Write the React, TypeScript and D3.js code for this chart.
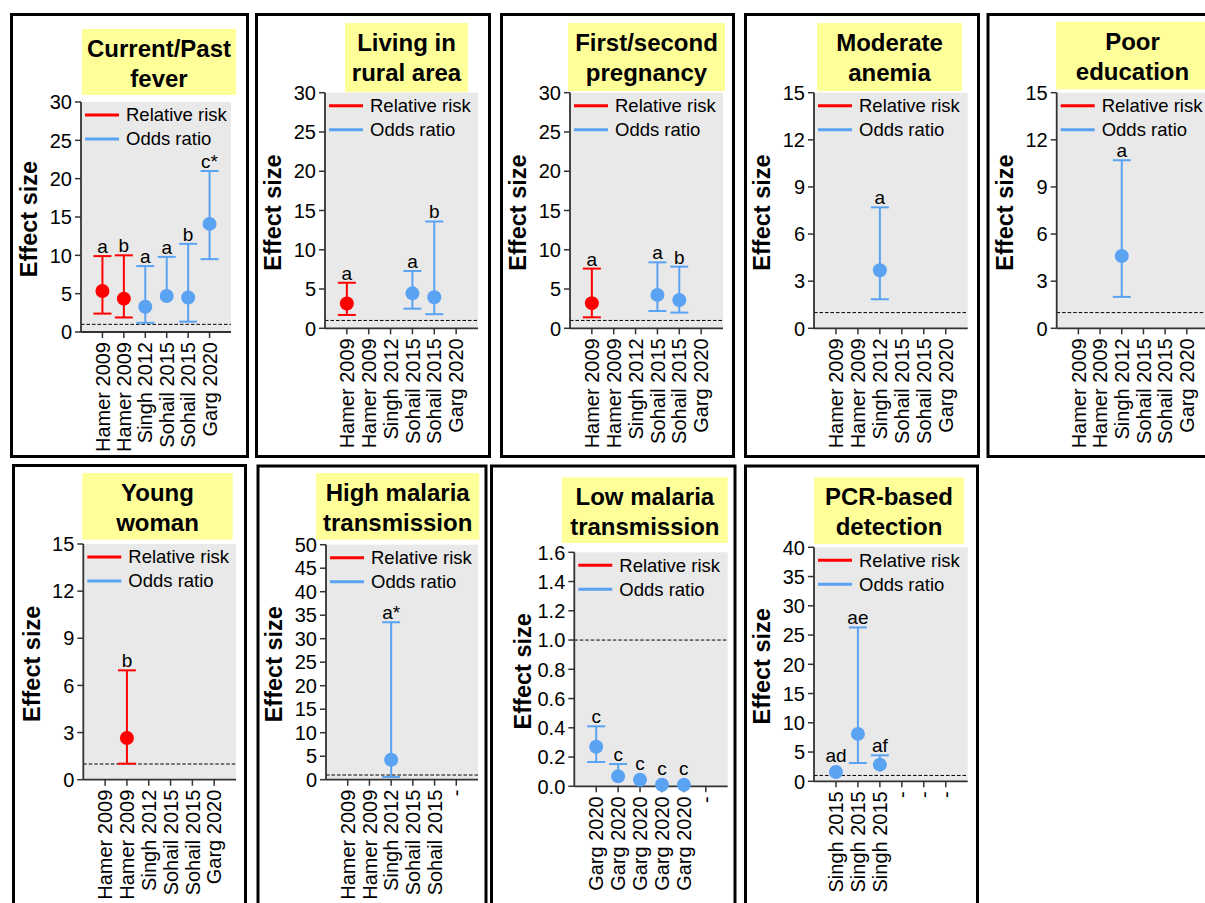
import React from "react";
import * as d3 from "d3";

// ---------- DATA ----------
const studyLabels = ["Hamer 2009", "Hamer 2009", "Singh 2012", "Sohail 2015", "Sohail 2015", "Garg 2020"];
const studyMeasures = ["RR", "RR", "OR", "OR", "OR", "OR"];
const highTxLabels = ["Hamer 2009", "Hamer 2009", "Singh 2012", "Sohail 2015", "Sohail 2015", "-"];
const lowTxLabels = ["Garg 2020", "Garg 2020", "Garg 2020", "Garg 2020", "Garg 2020", "-"];
const pcrLabels = ["Singh 2015", "Singh 2015", "Singh 2015", "-", "-", "-"];
const allOddsRatio = ["OR", "OR", "OR", "OR", "OR", "OR"];

const legendLabels = ["Relative risk", "Odds ratio"];

const feverTitle = ["Current/Past", "fever"];
const feverValues = [5.35, 4.35, 3.3, 4.7, 4.5, 14.1];
const feverLower = [2.4, 1.9, 1.2, null, 1.35, 9.5];
const feverUpper = [9.9, 10.0, 8.6, 9.8, 11.5, 21.0];
const feverLetters = ["a", "b", "a", "a", "b", "c*"];

const ruralTitle = ["Living in", "rural area"];
const ruralValues = [3.15, null, null, 4.45, 3.95, null];
const ruralLower = [1.7, null, null, 2.5, 1.8, null];
const ruralUpper = [5.8, null, null, 7.3, 13.6, null];
const ruralLetters = ["a", "", "", "a", "b", ""];

const pregnancyTitle = ["First/second", "pregnancy"];
const pregnancyValues = [3.2, null, null, 4.25, 3.6, null];
const pregnancyLower = [1.4, null, null, 2.2, 2.0, null];
const pregnancyUpper = [7.6, null, null, 8.4, 7.85, null];
const pregnancyLetters = ["a", "", "", "a", "b", ""];

const anemiaTitle = ["Moderate", "anemia"];
const anemiaValues = [null, null, 3.7, null, null, null];
const anemiaLower = [null, null, 1.85, null, null, null];
const anemiaUpper = [null, null, 7.7, null, null, null];
const anemiaLetters = ["", "", "a", "", "", ""];

const educationTitle = ["Poor", "education"];
const educationValues = [null, null, 4.6, null, null, null];
const educationLower = [null, null, 2.0, null, null, null];
const educationUpper = [null, null, 10.7, null, null, null];
const educationLetters = ["", "", "a", "", "", ""];

const youngTitle = ["Young", "woman"];
const youngValues = [null, 2.65, null, null, null, null];
const youngLower = [null, 1.02, null, null, null, null];
const youngUpper = [null, 6.96, null, null, null, null];
const youngLetters = ["", "b", "", "", "", ""];

const highTitle = ["High malaria", "transmission"];
const highValues = [null, null, 4.26, null, null, null];
const highLower = [null, null, 0.57, null, null, null];
const highUpper = [null, null, 33.5, null, null, null];
const highLetters = ["", "", "a*", "", "", ""];

const lowTitle = ["Low malaria", "transmission"];
const lowValues = [0.27, 0.068, 0.045, 0.011, 0.01, null];
const lowLower = [0.166, null, null, null, null, null];
const lowUpper = [0.41, 0.152, null, null, null, null];
const lowLetters = ["c", "c", "c", "c", "c", ""];

const pcrTitle = ["PCR-based", "detection"];
const pcrValues = [1.6, 8.1, 2.85, null, null, null];
const pcrLower = [null, 3.13, null, null, null, null];
const pcrUpper = [null, 26.3, 4.44, null, null, null];
const pcrLetters = ["ad", "ae", "af", "", "", ""];

// y axis maxima and tick steps
const yMaxes = [30, 30, 30, 15, 15, 15, 50, 1.6, 40];
const yStepsList = [5, 5, 5, 3, 3, 3, 5, 0.2, 5];
const referenceValue = 1;

// ---------- LAYOUT (positions only) ----------
const layouts = [
  { frame: [11.5, 14.5, 236, 442], plot: [81, 102, 231, 332], title: [82, 29, 236, 95] },
  { frame: [256.5, 14.5, 233, 442], plot: [325, 92.7, 478, 328.3], title: [345, 23, 468, 92] },
  { frame: [501.5, 14.5, 232, 442], plot: [570, 92.7, 723, 328.3], title: [568, 23, 725, 91] },
  { frame: [745.5, 14.5, 233, 442], plot: [814, 92.7, 967.7, 328.3], title: [817, 23, 962, 91] },
  { frame: [988, 14.5, 240, 442], plot: [1056.7, 92.7, 1208.5, 328.3], title: [1056, 21.7, 1209, 89.3] },
  { frame: [13.5, 465.5, 232, 460], plot: [83.3, 544, 236, 779.7], title: [82.3, 473, 232.7, 539.7] },
  { frame: [258, 466, 228, 460], plot: [326, 544.7, 478, 779.7], title: [316, 473, 479.3, 539.7] },
  { frame: [491.5, 466, 243.5, 460], plot: [574.3, 552.3, 727.7, 786.3], title: [562, 477.3, 727.7, 543] },
  { frame: [745.5, 466, 232, 460], plot: [814, 547.3, 967.7, 781.3], title: [814, 477.3, 964, 544] },
];

const panels = [
  { title: feverTitle, cats: studyLabels, measures: studyMeasures, values: feverValues, lower: feverLower, upper: feverUpper, letters: feverLetters },
  { title: ruralTitle, cats: studyLabels, measures: studyMeasures, values: ruralValues, lower: ruralLower, upper: ruralUpper, letters: ruralLetters },
  { title: pregnancyTitle, cats: studyLabels, measures: studyMeasures, values: pregnancyValues, lower: pregnancyLower, upper: pregnancyUpper, letters: pregnancyLetters },
  { title: anemiaTitle, cats: studyLabels, measures: studyMeasures, values: anemiaValues, lower: anemiaLower, upper: anemiaUpper, letters: anemiaLetters },
  { title: educationTitle, cats: studyLabels, measures: studyMeasures, values: educationValues, lower: educationLower, upper: educationUpper, letters: educationLetters },
  { title: youngTitle, cats: studyLabels, measures: studyMeasures, values: youngValues, lower: youngLower, upper: youngUpper, letters: youngLetters },
  { title: highTitle, cats: highTxLabels, measures: studyMeasures, values: highValues, lower: highLower, upper: highUpper, letters: highLetters },
  { title: lowTitle, cats: lowTxLabels, measures: allOddsRatio, values: lowValues, lower: lowLower, upper: lowUpper, letters: lowLetters },
  { title: pcrTitle, cats: pcrLabels, measures: allOddsRatio, values: pcrValues, lower: pcrLower, upper: pcrUpper, letters: pcrLetters },
];

const RED = "#FF0000";
const BLUE = "#5AA2F2";
const YELLOW = "#FFFF99";
const FONT = "'Liberation Sans', Arial, Helvetica, sans-serif";

function Panel({ idx }: { idx: number }) {
  const p = panels[idx];
  const L = layouts[idx];
  const [x0, y0, x1, y1] = L.plot;
  const yMax = yMaxes[idx];
  const step = yStepsList[idx];
  const y = d3.scaleLinear().domain([0, yMax]).range([y1, y0]);
  const x = d3.scalePoint<number>().domain(d3.range(p.cats.length)).range([x0, x1]).padding(1);
  const ticks = d3.range(0, yMax + step / 2, step);
  const fmt = step < 1 ? d3.format(".1f") : d3.format("d");
  const r = 7;
  const cap = 9;
  const [tx0, ty0, tx1, ty1] = L.title;
  const tcx = (tx0 + tx1) / 2;

  return (
    <g fontFamily={FONT}>
      <rect x={L.frame[0]} y={L.frame[1]} width={L.frame[2]} height={L.frame[3]} fill="white" stroke="#000" strokeWidth={3} />
      <rect x={tx0} y={ty0} width={tx1 - tx0} height={ty1 - ty0} fill={YELLOW} />
      <text x={tcx} y={ty0 + 28} textAnchor="middle" fontWeight="bold" fontSize={24} fill="#000">{p.title[0]}</text>
      <text x={tcx} y={ty0 + 58} textAnchor="middle" fontWeight="bold" fontSize={24} fill="#000">{p.title[1]}</text>
      <rect x={x0} y={y0} width={x1 - x0} height={y1 - y0} fill="#E9E9E9" />
      {/* reference line */}
      <line x1={x0} x2={x1} y1={y(referenceValue)} y2={y(referenceValue)} stroke="#000" strokeWidth={1} strokeDasharray="3.5,2" />
      {/* legend */}
      {legendLabels.map((lab, i) => (
        <g key={lab}>
          <line x1={x0 + 4} x2={x0 + 38} y1={y0 + 13 + i * 24} y2={y0 + 13 + i * 24} stroke={i === 0 ? RED : BLUE} strokeWidth={3} />
          <text x={x0 + 45} y={y0 + 13 + i * 24} dy="0.35em" fontSize={18.5} fill="#000">{lab}</text>
        </g>
      ))}
      {/* axes */}
      <line x1={x0} x2={x0} y1={y0} y2={y1} stroke="#333" strokeWidth={1.8} />
      <line x1={x0} x2={x1} y1={y1} y2={y1} stroke="#333" strokeWidth={1.8} />
      {ticks.map((t) => (
        <g key={t}>
          <line x1={x0 - 6} x2={x0} y1={y(t)} y2={y(t)} stroke="#333" strokeWidth={1.5} />
          <text x={x0 - 9} y={y(t)} dy="0.36em" textAnchor="end" fontSize={20} fill="#000">{fmt(t)}</text>
        </g>
      ))}
      {p.cats.map((c, i) => (
        <g key={i}>
          <line x1={x(i)} x2={x(i)} y1={y1} y2={y1 + 6} stroke="#333" strokeWidth={1.5} />
          <text transform={`translate(${x(i)},${y1 + 10}) rotate(-90)`} dy="0.36em" textAnchor="end" fontSize={20} fill="#000">{c}</text>
        </g>
      ))}
      {/* effect size label */}
      <text transform={`translate(${x0 - 52},${(y0 + y1) / 2 + 2}) rotate(-90)`} dy="0.36em" textAnchor="middle" fontWeight="bold" fontSize={23.5} fill="#000">Effect size</text>
      {/* data */}
      {p.values.map((v, i) => {
        if (v === null || v === undefined) return null;
        const col = p.measures[i] === "RR" ? RED : BLUE;
        const lo = p.lower[i];
        const hi = p.upper[i];
        const cx = x(i) as number;
        const top = Math.min(hi !== null ? y(hi) : y(v), y(v) - r);
        return (
          <g key={i}>
            <line x1={cx} x2={cx} y1={y(lo !== null ? lo : v)} y2={y(hi !== null ? hi : v)} stroke={col} strokeWidth={2} />
            {hi !== null && <line x1={cx - cap} x2={cx + cap} y1={y(hi)} y2={y(hi)} stroke={col} strokeWidth={2} />}
            {lo !== null && <line x1={cx - cap} x2={cx + cap} y1={y(lo)} y2={y(lo)} stroke={col} strokeWidth={2} />}
            <circle cx={cx} cy={y(v)} r={r} fill={col} />
            <text x={cx} y={top - 3} textAnchor="middle" fontSize={19} fill="#000">{p.letters[i]}</text>
          </g>
        );
      })}
    </g>
  );
}

export default function App() {
  return (
    <svg width={1205} height={903} style={{ position: "absolute", left: 0, top: 0, background: "white" }}>
      <rect x={0} y={0} width={1205} height={903} fill="white" />
      {panels.map((_, i) => (
        <Panel key={i} idx={i} />
      ))}
    </svg>
  );
}
